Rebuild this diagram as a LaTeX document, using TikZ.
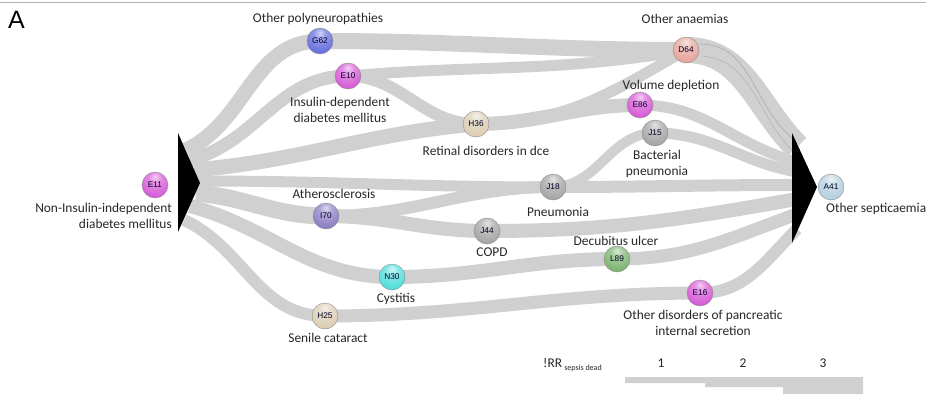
\documentclass[tikz,border=0pt]{standalone}
\usepackage{fontspec}
\setmainfont{Carlito}
\newfontfamily\codefont{Liberation Sans}
\newfontfamily\panelfont{Liberation Sans}
\definecolor{flowgray}{RGB}{208,208,208}
\definecolor{cMag}{RGB}{215,90,215}
\definecolor{cBlue}{RGB}{100,110,220}
\definecolor{cBeige}{RGB}{220,205,180}
\definecolor{cPink}{RGB}{230,165,155}
\definecolor{cGray}{RGB}{165,165,165}
\definecolor{cPurple}{RGB}{140,125,195}
\definecolor{cCyan}{RGB}{80,222,218}
\definecolor{cGreen}{RGB}{125,180,110}
\definecolor{cIce}{RGB}{180,208,222}
% glossy sphere: pale highlight on top, body colour, darker rim
\makeatletter
\pgfdeclareradialshading[tikz@ball]{glossy}{\pgfpoint{0bp}{16bp}}{%
  color(0bp)=(tikz@ball!30!white);
  color(12bp)=(tikz@ball!70!white);
  color(32bp)=(tikz@ball);
  color(52bp)=(tikz@ball!85!black);
  color(66bp)=(tikz@ball!55!black);
  color(80bp)=(tikz@ball!45!black)}
\makeatother
\pgfdeclarelayer{bands}
\pgfsetlayers{bands,main}
\begin{document}
\begin{tikzpicture}[x=1pt,y=-1pt,
  flow/.style={draw=flowgray,line width=#1},
  flow/.default=12,
  code/.style={circle,minimum size=26pt,inner sep=0pt,draw=black!45,line width=0.4pt,
    font=\codefont\fontsize{8.3}{9}\selectfont,text=black!85!blue},
  sphere/.style={ball color=#1,shading=glossy},
  lbl/.style={font=\fontsize{13.4}{15.5}\selectfont,text=black!85,align=center,inner sep=0pt},
]
\useasboundingbox (0,0) rectangle (926,396);

% frame line and panel letter
\draw[black!30,line width=1] (0,3) -- (926,3);
\node[font=\panelfont\fontsize{25}{27}\selectfont,anchor=west,inner sep=0pt] (panel) at (8,20) {A};

% disease nodes
\node[code,sphere=cMag]    (E11) at (155,185) {E11};
\node[code,sphere=cBlue]   (G62) at (320,41)  {G62};
\node[code,sphere=cMag]    (E10) at (348,76)  {E10};
\node[code,sphere=cBeige]  (H36) at (476,124) {H36};
\node[code,sphere=cPink]   (D64) at (686,50)  {D64};
\node[code,sphere=cMag]    (E86) at (640,105) {E86};
\node[code,sphere=cGray]   (J15) at (655,133) {J15};
\node[code,sphere=cGray]   (J18) at (553,187) {J18};
\node[code,sphere=cPurple] (I70) at (326,216) {I70};
\node[code,sphere=cGray]   (J44) at (487,231) {J44};
\node[code,sphere=cCyan]   (N30) at (392,277) {N30};
\node[code,sphere=cGreen]  (L89) at (617,259) {L89};
\node[code,sphere=cMag]    (E16) at (700,293) {E16};
\node[code,sphere=cBeige]  (H25) at (325,316) {H25};
\node[code,sphere=cIce]    (A41) at (831,187) {A41};

% labels
\node[lbl] (tG62) at (318,19) {Other polyneuropathies};
\node[lbl] (tE10) at (340,110) {Insulin-dependent\\diabetes mellitus};
\node[lbl] (tH36) at (486,151) {Retinal disorders in dce};
\node[lbl] (tD64) at (685,19) {Other anaemias};
\node[lbl] (tE86) at (671,86) {Volume depletion};
\node[lbl] (tJ15) at (657,164) {Bacterial\\pneumonia};
\node[lbl,align=right,anchor=east] (tE11) at (172,216) {Non-Insulin-independent\\diabetes mellitus};
\node[lbl] (tI70) at (334,194) {Atherosclerosis};
\node[lbl] (tJ18) at (558,212) {Pneumonia};
\node[lbl] (tJ44) at (492,252) {COPD};
\node[lbl] (tL89) at (616,241) {Decubitus ulcer};
\node[lbl] (tN30) at (396,299) {Cystitis};
\node[lbl,anchor=west] (tA41) at (826,209) {Other septicaemia};
\node[lbl] (tE16) at (703,323) {Other disorders of pancreatic\\internal secretion};
\node[lbl] (tH25) at (328,338) {Senile cataract};

% legend
\node[lbl,anchor=base west] (irr) at (543,367) {!RR\,\raisebox{-3pt}{\fontsize{8}{9}\selectfont sepsis dead}};
\node[lbl,anchor=base] (k1) at (661,367) {1};
\node[lbl,anchor=base] (k2) at (743,367) {2};
\node[lbl,anchor=base] (k3) at (823,367) {3};
\fill[flowgray] (625,377) -- (863,377) -- (863,394) -- (783,394) -- (783,387)
  -- (705,387) -- (705,383) -- (625,383) -- cycle;

% band ends inside the two wedges
\coordinate (s1) at (186,150);
\coordinate (s2) at (190,160);
\coordinate (s3) at (194,170);
\coordinate (s4) at (198,181);
\coordinate (s5) at (196,193);
\coordinate (s6) at (190,206);
\coordinate (s7) at (184,220);
\coordinate (r1) at (797,147);
\coordinate (r2) at (797,162);
\coordinate (r3) at (797,172);
\coordinate (r4) at (797,185);
\coordinate (r5) at (797,199);
\coordinate (r6) at (797,214);
\coordinate (r7) at (797,229);

\begin{pgfonlayer}{bands}
  \draw[flow=15] (s1) to[out=25,in=180] (G62.center);
  \draw[flow=13] (s2) to[out=15,in=180] (E10.center);
  \draw[flow=15] (s3) to[out=5,in=185] (H36.center);
  \draw[flow=11] (s4) to[out=0,in=180] (J18.center);
  \draw[flow=17] (s5) to[out=-5,in=180] (I70.center);
  \draw[flow=14] (s6) to[out=-15,in=180] (N30.center);
  \draw[flow=12] (s7) to[out=-25,in=180] (H25.center);
  \draw[flow=16] (G62.center) to[out=0,in=180] (D64.center);
  \draw[flow=11] (E10.center) to[out=5,in=190] (D64.center);
  \draw[flow=12] (E10.center) to[out=0,in=180] (H36.center);
  \draw[flow=11] (H36.center) to[out=0,in=210] (D64.center);
  \draw[flow=14] (H36.center) to[out=0,in=180] (E86.center);
  \draw[flow=26] (D64.center) to[out=0,in=135] (r1);
  \draw[black!35,line width=0.5] (700,44) to[out=0,in=140] (792,138);
  \draw[black!30,line width=0.5] (702,56) to[out=-5,in=135] (792,150);
  \draw[flow=11] (E86.center) to[out=0,in=165] (r2);
  \draw[flow=11] (J15.center) to[out=0,in=170] (r3);
  \draw[flow=10] (J18.center) to[out=0,in=180] (J15.center);
  \draw[flow=12] (J18.center) to[out=0,in=180] (r4);
  \draw[flow=12] (I70.center) to[out=0,in=180] (J18.center);
  \draw[flow=14] (I70.center) to[out=0,in=180] (J44.center);
  \draw[flow=14] (J44.center) to[out=0,in=190] (r5);
  \draw[flow=14] (N30.center) to[out=0,in=180] (L89.center);
  \draw[flow=13] (L89.center) to[out=0,in=200] (r6);
  \draw[flow=13] (H25.center) to[out=0,in=180] (E16.center);
  \draw[flow=12] (E16.center) to[out=0,in=225] (r7);
\end{pgfonlayer}

% source and target wedges
\fill[black] (178,133) -- (200,183) -- (178,232) -- cycle;
\fill[black] (792,133) -- (817,187) -- (792,243) -- cycle;
\end{tikzpicture}
\end{document}
